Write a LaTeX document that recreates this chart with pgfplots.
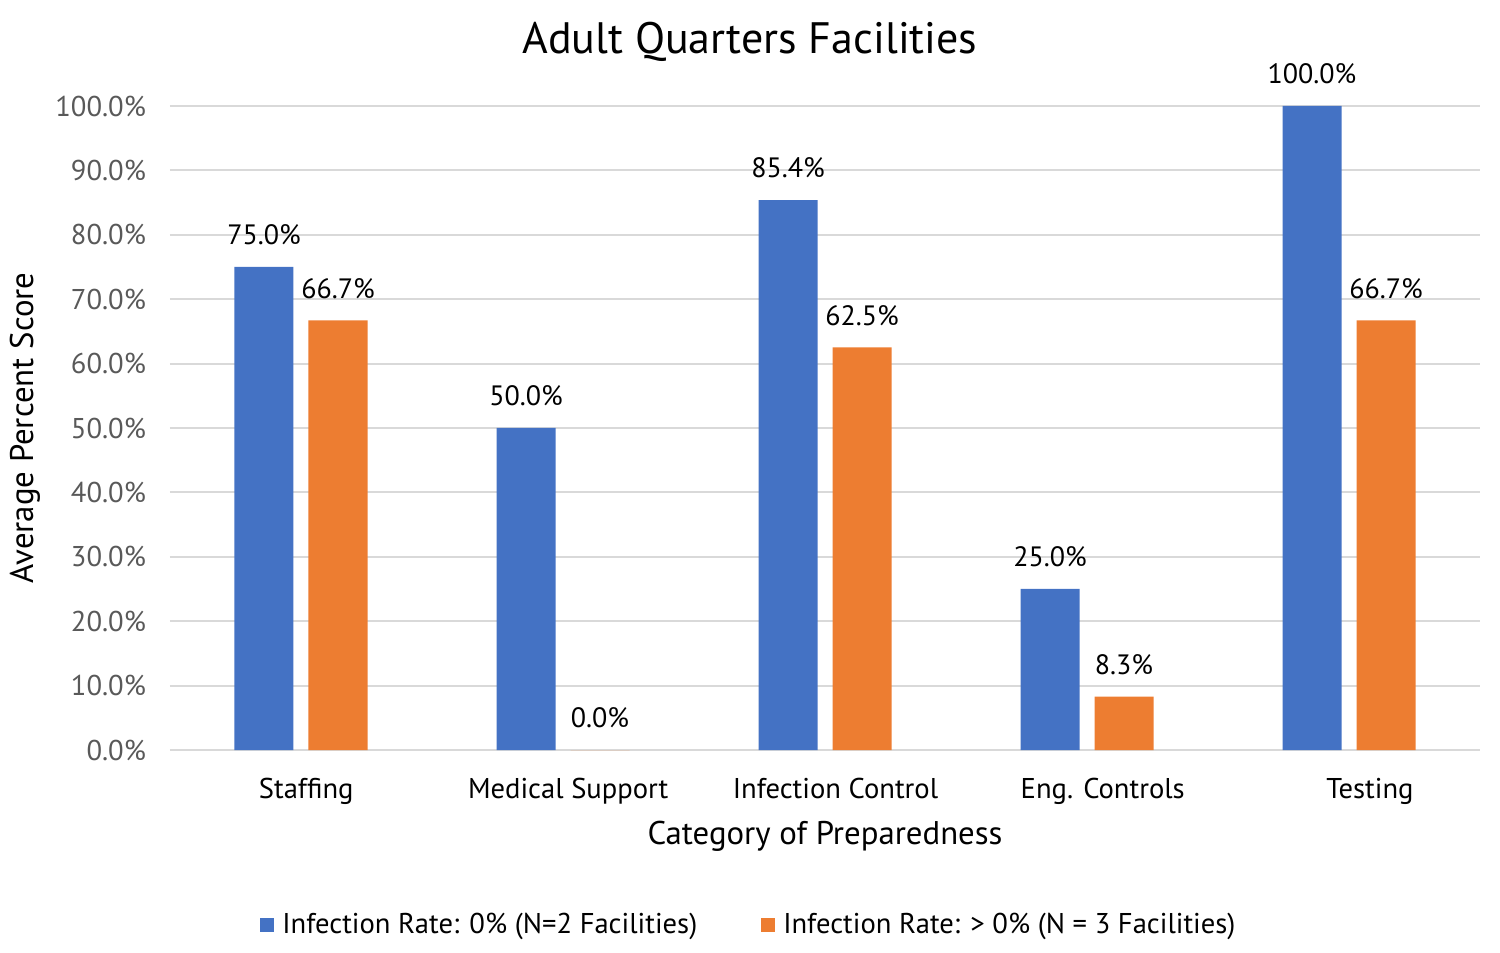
\documentclass[border=0pt]{standalone}
\usepackage{fontspec}
\setmainfont{PT Sans}
\usepackage{pgfplots}
\pgfplotsset{compat=1.18}

\definecolor{barblue}{HTML}{4472C4}
\definecolor{barorange}{HTML}{ED7D31}
\definecolor{gridgray}{HTML}{D9D9D9}
\definecolor{ticktext}{HTML}{595959}

\begin{document}
\begin{tikzpicture}
% 1 px of the reference = 0.5pt; axis bottom-left sits at pixel (170,750)
\path[use as bounding box] (-85pt,-101.5pt) rectangle (665pt,375pt);
\begin{axis}[
    scale only axis,
    width=655pt, height=322pt,
    ymin=0, ymax=100,
    xmin=-0.5, xmax=4.5,
    ybar, bar width=29.5pt,
    ytick={0,10,...,100},
    yticklabel={\pgfmathprintnumber[fixed,fixed zerofill,precision=1]{\tick}\%},
    xtick={0.02,1.02,2.04,3.06,4.08},
    xticklabels={Staffing, Medical Support, Infection Control, Eng. Controls, Testing},
    major tick length=0pt,
    /pgf/number format/assume math mode=true,
    ymajorgrids, grid style={gridgray, line width=1pt},
    axis line style={draw=none},
    tick label style={font=\fontsize{14.3}{16}\selectfont},
    yticklabel style={text=ticktext, xshift=-8.5pt},
    xticklabel style={yshift=-10.5pt},
    label style={font=\fontsize{16.4}{19}\selectfont},
    xlabel={Category of Preparedness},
    ylabel={Average Percent Score},
    xlabel style={at={(axis description cs:0.5,-0.1335)}, anchor=center},
    ylabel style={at={(axis description cs:-0.1107,0.5)}, anchor=center},
    title={Adult Quarters Facilities},
    title style={font=\fontsize{22}{26}\selectfont, at={(axis description cs:0.4427,1)}, anchor=center, yshift=26pt},
    clip=false,
    point meta=y,
    nodes near coords={\pgfmathprintnumber[fixed,fixed zerofill,precision=1]{\pgfplotspointmeta}\%},
    nodes near coords style={font=\fontsize{14}{16}\selectfont, anchor=center, yshift=16pt, /pgf/number format/assume math mode=true},
    legend style={at={(0.4427,-0.272)}, anchor=center, draw=none,
        font=\fontsize{14.3}{16}\selectfont, legend columns=2,
        /tikz/every even column/.append style={column sep=30pt},
        /tikz/every odd column/.append style={column sep=2pt}},
    legend image code/.code={\fill[#1] (0pt,-3.5pt) rectangle (7pt,3.5pt);},
]
\addplot[fill=barblue, draw=none, bar shift=-18.5pt] coordinates {
    (0,75.0) (1,50.0) (2,85.4) (3,25.0) (4,100.0)
};
\addlegendentry{Infection Rate: 0\% (N=2 Facilities)}
\addplot[fill=barorange, draw=none, bar shift=18.5pt] coordinates {
    (0,66.7) (1,0.0) (2,62.5) (3,8.3) (4,66.7)
};
\addlegendentry{Infection Rate: > 0\% (N = 3 Facilities)}
\end{axis}
\end{tikzpicture}
\end{document}
